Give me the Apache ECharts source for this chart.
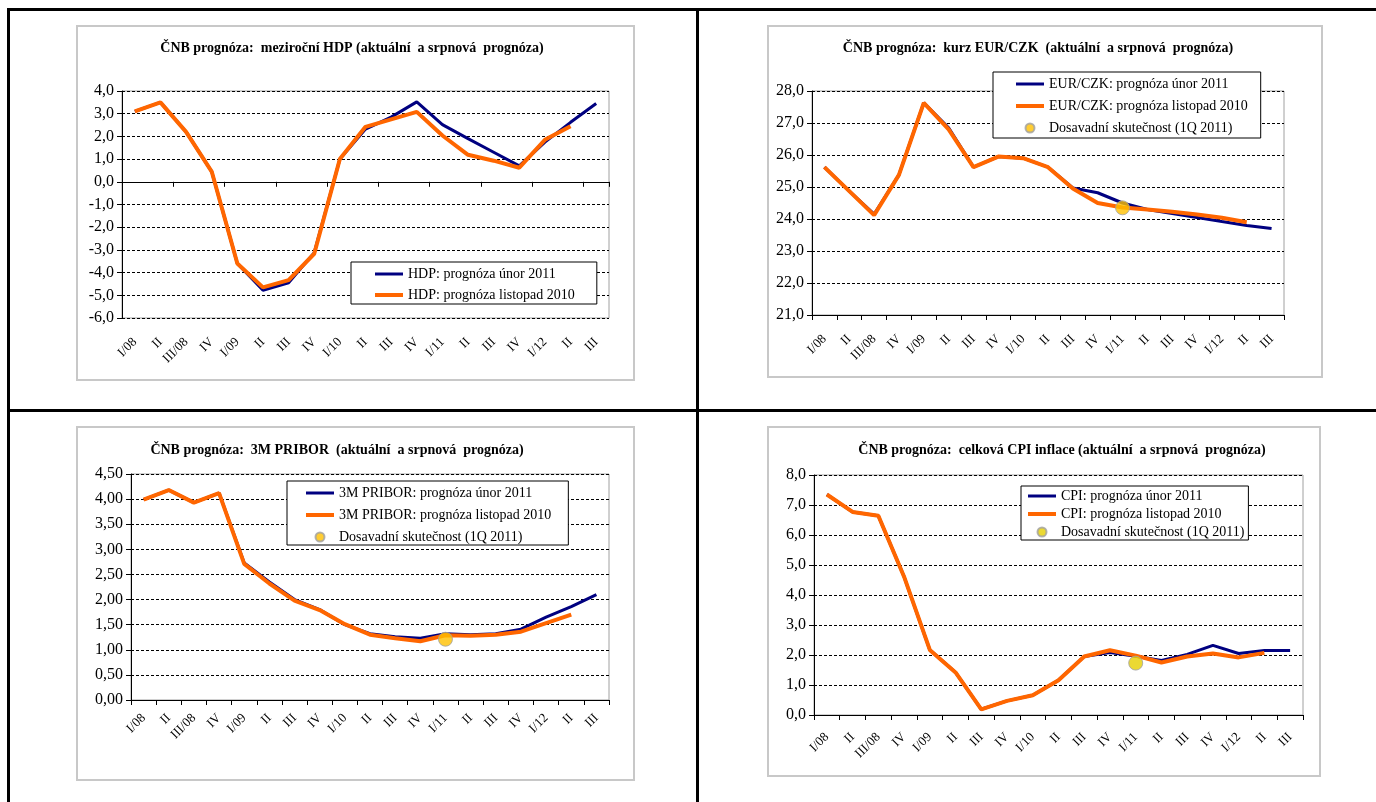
<!DOCTYPE html>
<html>
<head>
<meta charset="utf-8">
<script src="https://cdn.jsdelivr.net/npm/echarts@6/dist/echarts.min.js"></script>
<style>
  html, body { margin: 0; padding: 0; background: #fff; }
  body { width: 1376px; height: 802px; position: relative; overflow: hidden; }
  .rule { position: absolute; background: #000; }
  .panel { position: absolute; box-sizing: border-box; border: 2px solid #c8c8c8; background: #fff; }
</style>
</head>
<body>
<!-- table rules -->
<div class="rule" style="left:7px;top:8px;width:1369px;height:3px"></div>
<div class="rule" style="left:7px;top:409px;width:1369px;height:3px"></div>
<div class="rule" style="left:7px;top:8px;width:3px;height:794px"></div>
<div class="rule" style="left:696px;top:8px;width:3px;height:794px"></div>

<div id="c1" class="panel" style="left:76px;top:25px;width:559px;height:356px"></div>
<div id="c2" class="panel" style="left:767px;top:25px;width:556px;height:353px"></div>
<div id="c3" class="panel" style="left:76px;top:426px;width:559px;height:355px"></div>
<div id="c4" class="panel" style="left:767px;top:426px;width:554px;height:351px"></div>

<script>
// Quarters 2008 – III/2012
const quarters = ['I/08','II','III/08','IV','I/09','II','III','IV','I/10','II','III','IV','I/11','II','III','IV','I/12','II','III'];

// Year-on-year GDP (%)
const hdpUnor2011    = [3.1, 3.5, 2.2, 0.45, -3.6, -4.78, -4.45, -3.12, 1.0, 2.32, 2.85, 3.52, 2.52, 1.9, 1.3, 0.7, 1.75, 2.62, 3.45];
const hdpListopad2010 = [3.1, 3.5, 2.2, 0.45, -3.6, -4.65, -4.33, -3.17, 1.0, 2.42, 2.75, 3.08, 2.04, 1.19, 0.93, 0.62, 1.85, 2.45, null];

// EUR/CZK exchange rate
const eurUnor2011    = [25.62, 24.87, 24.15, 25.38, 27.63, 26.85, 25.62, 25.95, 25.9, 25.62, 24.97, 24.82, 24.5, 24.3, 24.17, 24.05, 23.92, 23.8, 23.7];
const eurListopad2010 = [25.62, 24.87, 24.12, 25.38, 27.63, 26.8, 25.62, 25.95, 25.9, 25.62, 24.95, 24.5, 24.36, 24.3, 24.23, 24.14, 24.04, 23.9, null];
const eurSkutecnost = 24.35;

// 3M PRIBOR (%)
const priborUnor2011    = [3.99, 4.18, 3.93, 4.12, 2.73, 2.35, 2.0, 1.8, 1.5, 1.32, 1.26, 1.23, 1.32, 1.3, 1.32, 1.41, 1.65, 1.86, 2.1];
const priborListopad2010 = [3.99, 4.18, 3.93, 4.12, 2.71, 2.32, 1.98, 1.79, 1.51, 1.3, 1.23, 1.17, 1.29, 1.28, 1.3, 1.36, 1.53, 1.7, null];
const priborSkutecnost = 1.21;

// Headline CPI inflation (%)
const cpiUnor2011    = [7.35, 6.77, 6.64, 4.61, 2.17, 1.42, 0.19, 0.47, 0.66, 1.16, 1.95, 2.08, 1.96, 1.82, 2.02, 2.32, 2.05, 2.15, 2.15];
const cpiListopad2010 = [7.35, 6.77, 6.64, 4.61, 2.17, 1.42, 0.19, 0.47, 0.66, 1.16, 1.95, 2.16, 1.98, 1.75, 1.95, 2.05, 1.92, 2.07, null];
const cpiSkutecnost = 1.73;

const skutecnostQuarter = 12; // I/11

const FONT = '"Liberation Serif", "DejaVu Serif", serif';
const BLUE = '#000080';
const ORANGE = '#ff6600';
const DOT = '#ffc000';
// legend keys: thin bars standing in for the line strokes
const ICON_BLUE = 'path://M0,0H28V3H0Z';
const ICON_ORANGE = 'path://M0,0H28V4H0Z';

function comma(digits) {
  return v => v.toFixed(digits).replace('.', ',');
}

function buildOption(cfg) {
  const labelAxis = {
    type: 'category', data: quarters, position: 'bottom', boundaryGap: true,
    axisLine: { show: !cfg.zeroAxis, onZero: false, lineStyle: { color: '#000', width: 1 } },
    axisTick: { show: !cfg.zeroAxis, length: 5, lineStyle: { color: '#000' } },
    axisLabel: { interval: 0, rotate: 45, margin: cfg.labelMargin, fontFamily: FONT, fontSize: 13, color: '#000' },
    splitLine: { show: false }
  };
  const xAxes = [labelAxis];
  if (cfg.zeroAxis) {
    xAxes.push({
      type: 'category', data: quarters, position: 'bottom', boundaryGap: true,
      axisLine: { show: true, onZero: true, lineStyle: { color: '#000', width: 1 } },
      axisTick: { show: true, length: 5, lineStyle: { color: '#000' } },
      axisLabel: { show: false }, splitLine: { show: false }
    });
  }
  const series = [
    { name: cfg.names[0], type: 'line', data: cfg.unor, symbol: 'none', z: 2,
      lineStyle: { color: BLUE, width: 3 }, itemStyle: { color: BLUE } },
    { name: cfg.names[1], type: 'line', data: cfg.listopad, symbol: 'none', z: 3,
      lineStyle: { color: ORANGE, width: 4 }, itemStyle: { color: ORANGE } }
  ];
  const legendData = [
    { name: cfg.names[0], icon: ICON_BLUE },
    { name: cfg.names[1], icon: ICON_ORANGE }
  ];
  if (cfg.actual != null) {
    series.push({ name: cfg.names[2], type: 'scatter', z: 4, symbolSize: 14,
      data: [[skutecnostQuarter, cfg.actual]],
      itemStyle: { color: cfg.dotColor || DOT, borderColor: '#a0a0a0', borderWidth: 1 } });
    legendData.push({ name: cfg.names[2], icon: 'circle' });
  }
  return {
    animation: false,
    title: {
      text: cfg.title, left: cfg.titleX, top: cfg.titleY, textAlign: 'center', padding: 0,
      textStyle: { fontFamily: FONT, fontSize: 14, fontWeight: 'bold', color: '#000' }
    },
    legend: {
      data: legendData, orient: 'vertical', left: cfg.legend[0], top: cfg.legend[1],
      borderColor: '#000', borderWidth: 1, padding: cfg.legendPad, itemGap: cfg.legendGap,
      itemWidth: 28, itemHeight: 9, selectedMode: false, backgroundColor: '#fff',
      textStyle: { fontFamily: FONT, fontSize: 14, color: '#000' }
    },
    grid: {
      left: cfg.grid[0], top: cfg.grid[1], width: cfg.grid[2], height: cfg.grid[3],
      show: true, borderColor: '#a0a0a0', borderWidth: 1, backgroundColor: '#fff'
    },
    xAxis: xAxes,
    yAxis: {
      type: 'value', min: cfg.min, max: cfg.max, interval: cfg.step,
      axisLine: { show: true, lineStyle: { color: '#000', width: 1 } },
      axisTick: { show: true, length: 5, lineStyle: { color: '#000' } },
      axisLabel: { formatter: comma(cfg.digits), fontFamily: FONT, fontSize: 16, color: '#000', margin: 8 },
      splitLine: { show: true, lineStyle: { color: '#000', width: 1, type: [3, 2] } }
    },
    series
  };
}

const charts = [
  { id: 'c1', title: 'ČNB prognóza:  meziroční HDP (aktuální  a srpnová  prognóza)',
    titleX: 274, titleY: 14, grid: [44, 64, 487, 227], min: -6, max: 4, step: 1, digits: 1,
    labelMargin: 22, zeroAxis: true, unor: hdpUnor2011, listopad: hdpListopad2010,
    names: ['HDP: prognóza únor 2011', 'HDP: prognóza listopad 2010'],
    legend: [273, 235], legendPad: [5, 22, 2, 24], legendGap: 7 },
  { id: 'c2', title: 'ČNB prognóza:  kurz EUR/CZK  (aktuální  a srpnová  prognóza)',
    titleX: 269, titleY: 14, grid: [43, 64, 472, 224], min: 21, max: 28, step: 1, digits: 1,
    labelMargin: 22, unor: eurUnor2011, listopad: eurListopad2010, actual: eurSkutecnost,
    names: ['EUR/CZK: prognóza únor 2011', 'EUR/CZK: prognóza listopad 2010', 'Dosavadní skutečnost (1Q 2011)'],
    legend: [224, 45], legendPad: [5, 13, 3, 23], legendGap: 8 },
  { id: 'c3', title: 'ČNB prognóza:  3M PRIBOR  (aktuální  a srpnová  prognóza)',
    titleX: 259, titleY: 15, grid: [53, 46, 478, 226], min: 0, max: 4.5, step: 0.5, digits: 2,
    labelMargin: 16, unor: priborUnor2011, listopad: priborListopad2010, actual: priborSkutecnost,
    names: ['3M PRIBOR: prognóza únor 2011', '3M PRIBOR: prognóza listopad 2010', 'Dosavadní skutečnost (1Q 2011)'],
    legend: [209, 53], legendPad: [5, 17, 1, 19], legendGap: 8 },
  { id: 'c4', title: 'ČNB prognóza:  celková CPI inflace (aktuální  a srpnová  prognóza)',
    titleX: 293, titleY: 15, grid: [45, 47, 489, 240], min: 0, max: 8, step: 1, digits: 1,
    labelMargin: 20, unor: cpiUnor2011, listopad: cpiListopad2010, actual: cpiSkutecnost, dotColor: '#e6d000',
    names: ['CPI: prognóza únor 2011', 'CPI: prognóza listopad 2010', 'Dosavadní skutečnost (1Q 2011)'],
    legend: [252, 58], legendPad: [3, 4, 1, 7], legendGap: 4 }
];

charts.forEach(cfg => {
  const chart = echarts.init(document.getElementById(cfg.id), null, { renderer: 'canvas' });
  chart.setOption(buildOption(cfg));
});
</script>
</body>
</html>
